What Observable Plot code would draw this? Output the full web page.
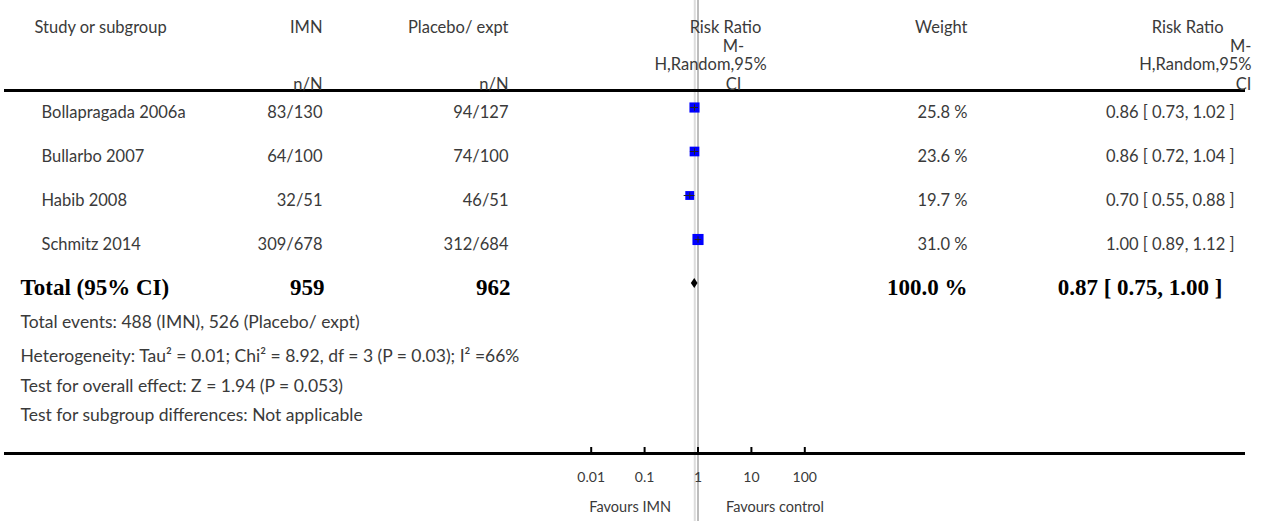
<!DOCTYPE html>
<html>
<head>
<meta charset="utf-8">
<script src="https://cdn.jsdelivr.net/npm/d3@7"></script>
<script src="https://cdn.jsdelivr.net/npm/@observablehq/plot@0.6"></script>
<style>
  html, body { margin: 0; padding: 0; background: #fff; }
  #chart svg { display: block; }
</style>
</head>
<body>
<div id="chart"></div>
<script>
// ---- data ----
const studies = ["Bollapragada 2006a", "Bullarbo 2007", "Habib 2008", "Schmitz 2014"];
const imnEvents = ["83/130", "64/100", "32/51", "309/678"];
const ctrlEvents = ["94/127", "74/100", "46/51", "312/684"];
const riskRatio = [0.86, 0.86, 0.70, 1.00];
const ciLower = [0.73, 0.72, 0.55, 0.89];
const ciUpper = [1.02, 1.04, 0.88, 1.12];
const weights = [25.8, 23.6, 19.7, 31.0];

const totalLabel = "Total (95% CI)";
const totalIMN = 959;
const totalCtrl = 962;
const totalWeight = 100.0;
const totalRR = 0.87;
const totalLower = 0.75;
const totalUpper = 1.00;

const footnotes = [
  "Total events: 488 (IMN), 526 (Placebo/ expt)",
  "Heterogeneity: Tau\u00B2 = 0.01; Chi\u00B2 = 8.92, df = 3 (P = 0.03); I\u00B2 =66%",
  "Test for overall effect: Z = 1.94 (P = 0.053)",
  "Test for subgroup differences: Not applicable"
];

const colHeaders = ["Study or subgroup", "IMN", "Placebo/ expt", "Weight"];
const subHeaders = ["n/N", "n/N"];
const rrHeaderLines = ["Risk Ratio", "M-", "H,Random,95%", "CI"];

const axisTicks = [0.01, 0.1, 1, 10, 100];
const tickLabels = ["0.01", "0.1", "1", "10", "100"];
const favoursLabels = ["Favours IMN", "Favours control"];

// ---- build table ----
const fmtRR = (r, l, u) => `${r.toFixed(2)} [ ${l.toFixed(2)}, ${u.toFixed(2)} ]`;
const rows = studies.map((s, i) => ({
  study: s, imn: imnEvents[i], ctrl: ctrlEvents[i],
  rr: riskRatio[i], lo: ciLower[i], hi: ciUpper[i], w: weights[i],
  wText: `${weights[i].toFixed(1)} %`,
  rrText: fmtRR(riskRatio[i], ciLower[i], ciUpper[i])
}));
const total = {
  study: totalLabel, imn: String(totalIMN), ctrl: String(totalCtrl),
  rr: totalRR, lo: totalLower, hi: totalUpper,
  wText: `${totalWeight.toFixed(1)} %`,
  rrText: fmtRR(totalRR, totalLower, totalUpper)
};

// ---- layout (pixels) ----
const W = 1266, H = 521;
const mTop = 90, mBottom = 68, mLeft = 5, mRight = 23;
const colRight = {imn: 322, ctrl: 508, weight: 967, rr: 1234};
const totRight = {imn: 324, ctrl: 510, weight: 967, rr: 1222};
const FONT = "Lato, 'Open Sans', sans-serif";
const SERIF = "'Liberation Serif', 'DejaVu Serif', serif";
const TXT = "#3a3a3a";
const FS = 16.5;

const hdr = (text, x, y, anchor, extra = {}) =>
  Plot.text([text], {text: d => d, frameAnchor: "top-left", dx: x - mLeft, dy: y - mTop,
    textAnchor: anchor, fill: TXT, fontSize: FS, ...extra});

// diamond as a function mark using the plot's scales
const diamond = (index, scales) => {
  const x = scales.x, y = scales.y;
  const cy = y(totalLabel);
  const p = d3.path();
  p.moveTo(x(total.lo), cy);
  p.lineTo(x(total.rr), cy - 5);
  p.lineTo(x(total.hi), cy);
  p.lineTo(x(total.rr), cy + 5);
  p.closePath();
  return d3.create("svg:path").attr("d", p.toString()).attr("fill", "#000").node();
};

const rrLineX = [725, 733, 710, 733];
const rightRRRight = [1223, 1251, 1251, 1251];
const hdrY = [21, 40, 58, 78];
const footY = [315, 349, 379, 408];

const bold = {fill: "#000", fontFamily: SERIF, fontWeight: "bold", fontSize: 23};

const chart = Plot.plot({
  width: W, height: H,
  marginTop: mTop, marginBottom: mBottom, marginLeft: mLeft, marginRight: mRight,
  x: {type: "log", domain: [0.01, 100], range: [590.7, 804.3], axis: null},
  y: {type: "point", domain: [...studies, totalLabel], range: [107.3, 283.3], padding: 0, axis: null},
  r: {type: "sqrt", domain: [0, 31], range: [0, 6.27]},
  style: {fontFamily: FONT, fontSize: FS + "px", background: "#fff", overflow: "visible"},
  marks: [
    // reference lines (full height)
    Plot.ruleX([totalRR], {stroke: "#dcdcdc", strokeWidth: 2, insetTop: -mTop, insetBottom: -mBottom}),
    Plot.ruleX([1], {stroke: "#bdbdbd", strokeWidth: 2, insetTop: -mTop, insetBottom: -mBottom}),
    // table rules
    Plot.frame({anchor: "top", stroke: "#000", strokeWidth: 3}),
    Plot.frame({anchor: "bottom", stroke: "#000", strokeWidth: 3}),
    // axis ticks and labels
    Plot.ruleX(axisTicks, {x: d => d, stroke: "#000", strokeWidth: 2, insetTop: H - mTop - mBottom - 6}),
    Plot.text(axisTicks, {x: d => d, text: (d, i) => tickLabels[i], frameAnchor: "bottom", dy: 28, fill: TXT, fontSize: 14}),
    Plot.text([favoursLabels[0]], {x: [1], frameAnchor: "bottom", dy: 58, dx: -27, textAnchor: "end", fill: TXT, fontSize: 14.5}),
    Plot.text([favoursLabels[1]], {x: [1], frameAnchor: "bottom", dy: 58, dx: 28, textAnchor: "start", fill: TXT, fontSize: 14.5}),
    // study CI and squares
    Plot.dot(rows, {x: "rr", y: "study", r: "w", symbol: "square", fill: "#0000ff", stroke: null}),
    Plot.ruleY(rows, {y: "study", x1: "lo", x2: "hi", stroke: "#222", strokeWidth: 1}),
    Plot.dot(rows, {x: "rr", y: "study", symbol: "plus", r: 2.2, stroke: "#222", strokeWidth: 1}),
    // pooled diamond
    diamond,
    // table columns: studies
    Plot.text(rows, {y: "study", text: "study", frameAnchor: "left", dx: 41 - mLeft, dy: 5.5, textAnchor: "start", fill: TXT}),
    Plot.text(rows, {y: "study", text: "imn", frameAnchor: "left", dx: colRight.imn - mLeft, dy: 5.5, textAnchor: "end", fill: TXT}),
    Plot.text(rows, {y: "study", text: "ctrl", frameAnchor: "left", dx: colRight.ctrl - mLeft, dy: 5.5, textAnchor: "end", fill: TXT}),
    Plot.text(rows, {y: "study", text: "wText", frameAnchor: "left", dx: colRight.weight - mLeft, dy: 5.5, textAnchor: "end", fill: TXT}),
    Plot.text(rows, {y: "study", text: "rrText", frameAnchor: "left", dx: colRight.rr - mLeft, dy: 5.5, textAnchor: "end", fill: TXT}),
    // total row
    Plot.text([total], {y: "study", text: "study", frameAnchor: "left", dx: 20 - mLeft, dy: 4, textAnchor: "start", ...bold}),
    Plot.text([total], {y: "study", text: "imn", frameAnchor: "left", dx: totRight.imn - mLeft, dy: 4, textAnchor: "end", ...bold}),
    Plot.text([total], {y: "study", text: "ctrl", frameAnchor: "left", dx: totRight.ctrl - mLeft, dy: 4, textAnchor: "end", ...bold}),
    Plot.text([total], {y: "study", text: "wText", frameAnchor: "left", dx: totRight.weight - mLeft, dy: 4, textAnchor: "end", ...bold}),
    Plot.text([total], {y: "study", text: "rrText", frameAnchor: "left", dx: totRight.rr - mLeft, dy: 4, textAnchor: "end", ...bold}),
    // footnotes
    ...footnotes.map((f, i) => hdr(f, 20, footY[i], "start", {fontSize: 17.5})),
    // headers
    hdr(colHeaders[0], 34, 21, "start"),
    hdr(colHeaders[1], colRight.imn, 21, "end"),
    hdr(colHeaders[2], colRight.ctrl, 21, "end"),
    hdr(colHeaders[3], colRight.weight, 21, "end"),
    hdr(subHeaders[0], colRight.imn, 78, "end"),
    hdr(subHeaders[1], colRight.ctrl, 78, "end"),
    ...rrHeaderLines.map((t, i) => hdr(t, rrLineX[i], hdrY[i], "middle")),
    ...rrHeaderLines.map((t, i) => hdr(t, rightRRRight[i], hdrY[i], "end"))
  ]
});
document.getElementById("chart").append(chart);
</script>
</body>
</html>
